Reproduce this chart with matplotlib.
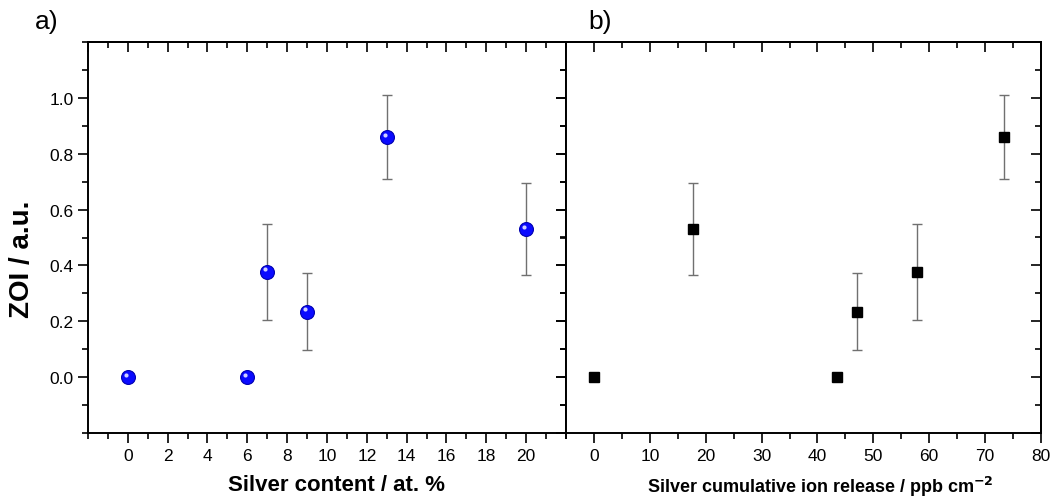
import matplotlib.pyplot as plt
from matplotlib.ticker import MultipleLocator
from matplotlib.transforms import ScaledTranslation

plt.rcParams["font.family"] = ["Liberation Sans", "DejaVu Sans"]

# ZOI vs silver content (panel a)
silver_at = [0, 6, 7, 9, 13, 20]
zoi_a = [0.0, 0.0, 0.378, 0.235, 0.860, 0.530]
zoi_a_err = [0.0, 0.0, 0.172, 0.137, 0.150, 0.166]

# ZOI vs cumulative ion release (panel b)
ion_release = [0.0, 43.5, 47.0, 57.8, 73.3, 17.8]
zoi_b = [0.0, 0.0, 0.235, 0.378, 0.860, 0.530]
zoi_b_err = [0.0, 0.0, 0.137, 0.172, 0.150, 0.166]

y_ticks = [0.0, 0.2, 0.4, 0.6, 0.8, 1.0]

fig = plt.figure(figsize=(10.54, 5.02), dpi=100)
ax_a = fig.add_axes([88 / 1054, 1 - 434 / 502, (566 - 88) / 1054, (434 - 43) / 502])
ax_b = fig.add_axes([566 / 1054, 1 - 434 / 502, (1041 - 566) / 1054, (434 - 43) / 502])


def style_axes(ax, xmajor, xminor):
    ax.set_ylim(-0.2, 1.2)
    ax.yaxis.set_major_locator(MultipleLocator(0.2))
    ax.yaxis.set_minor_locator(MultipleLocator(0.1))
    ax.xaxis.set_major_locator(MultipleLocator(xmajor))
    ax.xaxis.set_minor_locator(MultipleLocator(xminor))
    for s in ax.spines.values():
        s.set_linewidth(1.4)
    ax.tick_params(which="both", direction="out", bottom=True, left=True,
                   top=False, right=False, width=1.2, labelsize=12.5)
    ax.tick_params(which="major", length=7)
    ax.tick_params(which="minor", length=4)
    # mirrored ticks on top/right pointing inwards
    for side in ("top", "right"):
        sec = ax.secondary_xaxis("top") if side == "top" else ax.secondary_yaxis("right")
        axis = sec.xaxis if side == "top" else sec.yaxis
        axis.set_major_locator(MultipleLocator(xmajor if side == "top" else 0.2))
        axis.set_minor_locator(MultipleLocator(xminor if side == "top" else 0.1))
        sec.tick_params(which="both", direction="in", width=1.2,
                        labeltop=False, labelright=False)
        sec.tick_params(which="major", length=7)
        sec.tick_params(which="minor", length=4)
        sec.spines[side].set_linewidth(1.4)


# panel a
style_axes(ax_a, 2, 1)
ax_a.set_xlim(-2, 22)
ax_a.set_xticks([0, 2, 4, 6, 8, 10, 12, 14, 16, 18, 20])
ax_a.set_yticks(y_ticks)
ax_a.set_yticklabels([f"{v:.1f}" for v in y_ticks])
ax_a.errorbar(silver_at, zoi_a, yerr=zoi_a_err, fmt="none", ecolor="#707070",
              elinewidth=1.0, capsize=3.5, capthick=1.0, zorder=2)
ax_a.plot(silver_at, zoi_a, "o", ms=10, color="#0a0aff", mec="#0000b0",
          mew=0.8, zorder=3, linestyle="none")
# small highlight spot on each sphere
shift = ax_a.transData + ScaledTranslation(-1.5 / 72, 1.5 / 72, fig.dpi_scale_trans)
ax_a.plot(silver_at, zoi_a, "o", ms=3, color="#d0d0ff", mec="none", zorder=4,
          linestyle="none", transform=shift)
ax_a.set_xlabel("Silver content / at. %", fontsize=16, fontweight="bold")
ax_a.xaxis.set_label_coords(0.52, -0.105)
ax_a.set_ylabel("ZOI / a.u.", fontsize=20, fontweight="bold")
ax_a.yaxis.set_label_coords(-0.111, 0.447)

# panel b
style_axes(ax_b, 10, 5)
ax_b.set_xlim(-5, 80)
ax_b.set_xticks([0, 10, 20, 30, 40, 50, 60, 70, 80])
ax_b.tick_params(axis="y", labelleft=False)
ax_b.errorbar(ion_release, zoi_b, yerr=zoi_b_err, fmt="none", ecolor="#707070",
              elinewidth=1.0, capsize=3.5, capthick=1.0, zorder=2)
ax_b.plot(ion_release, zoi_b, "s", ms=6.5, color="black", zorder=3, linestyle="none")
ax_b.set_xlabel("Silver cumulative ion release / ppb cm$^{\\mathbf{-2}}$",
                fontsize=13, fontweight="bold")
ax_b.xaxis.set_label_coords(0.535, -0.105)

fig.text(35 / 1054, 1 - 22 / 502, "a)", fontsize=19, va="center", ha="left")
fig.text(588 / 1054, 1 - 22 / 502, "b)", fontsize=19, va="center", ha="left")

fig.savefig("out.png", dpi=100)
